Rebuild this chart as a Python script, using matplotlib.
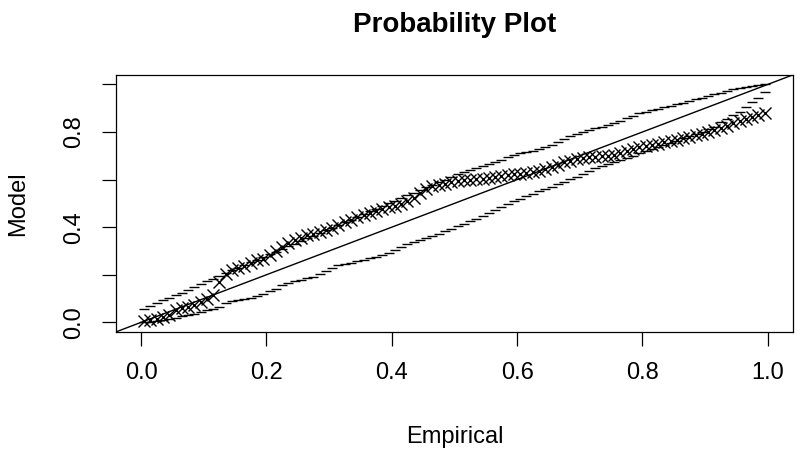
import matplotlib
matplotlib.use("Agg")
import matplotlib.pyplot as plt

plt.rcParams['font.family'] = ['Liberation Sans', 'DejaVu Sans']

# empirical plotting positions
empirical = [0.005, 0.015, 0.025, 0.035, 0.045, 0.055, 0.065, 0.075, 0.085, 0.095,
             0.105, 0.115, 0.125, 0.135, 0.145, 0.155, 0.165, 0.175, 0.185, 0.195,
             0.205, 0.215, 0.225, 0.235, 0.245, 0.255, 0.265, 0.275, 0.285, 0.295,
             0.305, 0.315, 0.325, 0.335, 0.345, 0.355, 0.365, 0.375, 0.385, 0.395,
             0.405, 0.415, 0.425, 0.435, 0.445, 0.455, 0.465, 0.475, 0.485, 0.495,
             0.505, 0.515, 0.525, 0.535, 0.545, 0.555, 0.565, 0.575, 0.585, 0.595,
             0.605, 0.615, 0.625, 0.635, 0.645, 0.655, 0.665, 0.675, 0.685, 0.695,
             0.705, 0.715, 0.725, 0.735, 0.745, 0.755, 0.765, 0.775, 0.785, 0.795,
             0.805, 0.815, 0.825, 0.835, 0.845, 0.855, 0.865, 0.875, 0.885, 0.895,
             0.905, 0.915, 0.925, 0.935, 0.945, 0.955, 0.965, 0.975, 0.985, 0.995]

# model probabilities (crosses)
model = [0.004, 0.010, 0.015, 0.022, 0.030, 0.050, 0.060, 0.066, 0.075, 0.085,
         0.098, 0.115, 0.170, 0.205, 0.222, 0.230, 0.238, 0.250, 0.260, 0.268,
         0.282, 0.298, 0.318, 0.335, 0.345, 0.356, 0.366, 0.373, 0.380, 0.388,
         0.398, 0.410, 0.422, 0.432, 0.441, 0.452, 0.460, 0.466, 0.476, 0.484,
         0.490, 0.498, 0.508, 0.522, 0.542, 0.562, 0.572, 0.578, 0.583, 0.588,
         0.593, 0.597, 0.600, 0.602, 0.604, 0.606, 0.610, 0.615, 0.619, 0.622,
         0.625, 0.628, 0.632, 0.638, 0.646, 0.653, 0.662, 0.672, 0.680, 0.686,
         0.690, 0.694, 0.697, 0.699, 0.701, 0.705, 0.712, 0.721, 0.728, 0.735,
         0.742, 0.747, 0.751, 0.756, 0.762, 0.768, 0.774, 0.780, 0.786, 0.792,
         0.799, 0.807, 0.816, 0.826, 0.836, 0.846, 0.856, 0.864, 0.873, 0.882]

# confidence band, upper
upper = [0.058, 0.068, 0.080, 0.092, 0.102, 0.113, 0.124, 0.136, 0.148, 0.160,
         0.172, 0.184, 0.196, 0.206, 0.218, 0.229, 0.240, 0.252, 0.262, 0.274,
         0.286, 0.296, 0.308, 0.320, 0.330, 0.342, 0.353, 0.364, 0.375, 0.387,
         0.398, 0.409, 0.420, 0.432, 0.443, 0.454, 0.466, 0.477, 0.488, 0.500,
         0.511, 0.522, 0.534, 0.545, 0.556, 0.567, 0.578, 0.589, 0.600, 0.611,
         0.622, 0.633, 0.642, 0.650, 0.658, 0.666, 0.675, 0.684, 0.694, 0.703,
         0.712, 0.718, 0.722, 0.728, 0.735, 0.745, 0.757, 0.770, 0.782, 0.793,
         0.802, 0.810, 0.817, 0.823, 0.830, 0.838, 0.848, 0.858, 0.868, 0.878,
         0.886, 0.892, 0.898, 0.904, 0.910, 0.917, 0.924, 0.931, 0.937, 0.943,
         0.950, 0.958, 0.966, 0.973, 0.980, 0.986, 0.991, 0.995, 0.998, 1.000]

# confidence band, lower
lower = [0.000, 0.002, 0.005, 0.009, 0.014, 0.019, 0.025, 0.031, 0.037, 0.044,
         0.050, 0.057, 0.064, 0.080, 0.090, 0.094, 0.098, 0.104, 0.112, 0.120,
         0.130, 0.142, 0.155, 0.166, 0.174, 0.180, 0.186, 0.192, 0.202, 0.215,
         0.228, 0.240, 0.246, 0.251, 0.256, 0.262, 0.269, 0.276, 0.284, 0.293,
         0.304, 0.316, 0.328, 0.338, 0.347, 0.356, 0.364, 0.373, 0.383, 0.393,
         0.404, 0.414, 0.424, 0.436, 0.448, 0.459, 0.471, 0.484, 0.497, 0.508,
         0.519, 0.530, 0.540, 0.550, 0.560, 0.570, 0.580, 0.590, 0.601, 0.612,
         0.624, 0.636, 0.647, 0.656, 0.665, 0.674, 0.683, 0.692, 0.701, 0.710,
         0.719, 0.728, 0.737, 0.746, 0.755, 0.764, 0.773, 0.782, 0.792, 0.802,
         0.812, 0.823, 0.842, 0.856, 0.870, 0.886, 0.905, 0.925, 0.945, 0.968]

x_ticks = [0.0, 0.2, 0.4, 0.6, 0.8, 1.0]
x_ticklabels = ['0.0', '0.2', '0.4', '0.6', '0.8', '1.0']
y_ticks = [0.0, 0.2, 0.4, 0.6, 0.8, 1.0]
y_ticklabels = ['0.0', '', '0.4', '', '0.8', '']

fig = plt.figure(figsize=(8, 4.54), dpi=100)
ax = fig.add_axes([0.145, 0.269, 0.846, 0.566])

ax.plot(empirical, model, linestyle='none', marker='x', markersize=9,
        markeredgewidth=1.0, color='black')
ax.plot(empirical, upper, linestyle='none', marker='_', markersize=7,
        markeredgewidth=1.0, color='black')
ax.plot(empirical, lower, linestyle='none', marker='_', markersize=7,
        markeredgewidth=1.0, color='black')
ax.axline((0, 0), (1, 1), color='black', linewidth=1.0)

ax.set_xlim(-0.04, 1.04)
ax.set_ylim(-0.04, 1.04)
ax.set_xticks(x_ticks)
ax.set_xticklabels(x_ticklabels)
ax.set_yticks(y_ticks)
ax.set_yticklabels(y_ticklabels, rotation=90, va='center')
ax.tick_params(axis='both', length=10, width=0.9, labelsize=17, color='black')
ax.tick_params(axis='x', pad=12)
ax.tick_params(axis='y', pad=12)
for s in ax.spines.values():
    s.set_linewidth(0.9)

ax.set_xlabel('Empirical', fontsize=17, labelpad=30)
ax.set_ylabel('Model', fontsize=17, labelpad=25)
ax.set_title('Probability Plot', fontsize=20, fontweight='bold', pad=31)

fig.savefig('out.png', dpi=100)
